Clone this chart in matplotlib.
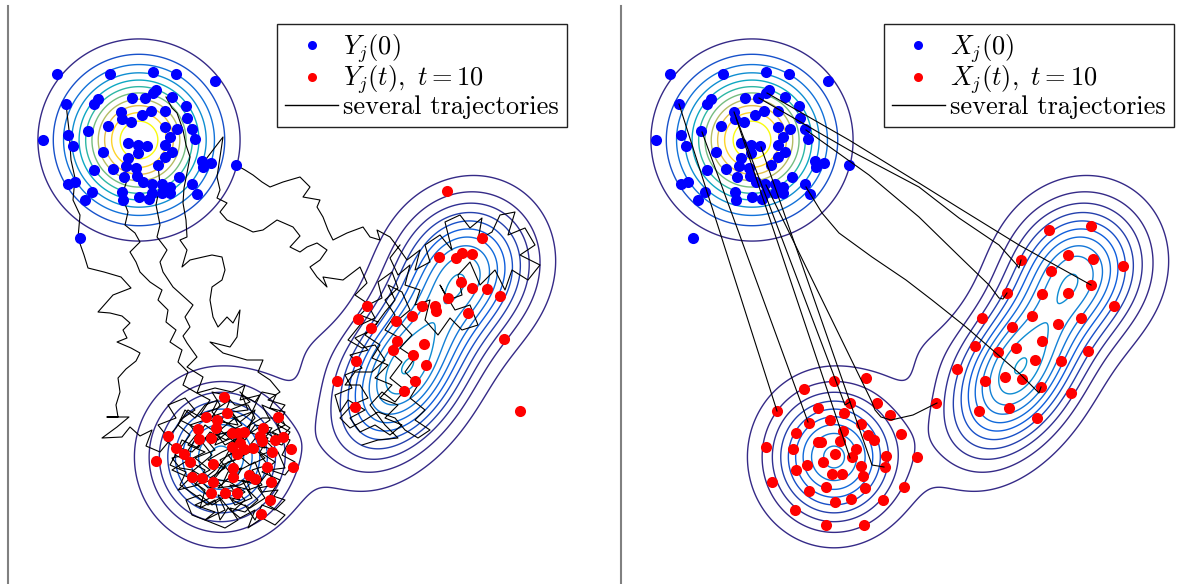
import matplotlib
matplotlib.use("Agg")
import matplotlib.pyplot as plt
from matplotlib.colors import LinearSegmentedColormap, Normalize
from matplotlib.lines import Line2D
import numpy as np

plt.rcParams["mathtext.fontset"] = "cm"
plt.rcParams["font.family"] = "cmr10"
plt.rcParams["axes.unicode_minus"] = False

# ---------------------------------------------------------------------------
# densities (panel coordinates, y grows downwards)
# ---------------------------------------------------------------------------
INIT_CX, INIT_CY, INIT_SIGMA = 139, 140, 45.3
INIT_LEVELS = [0.083, 0.167, 0.25, 0.333, 0.417, 0.5, 0.583, 0.667, 0.75, 0.833, 0.917]

# target = mixture (bottom blob, right blob lower part, right blob upper part, neck)
TARGET_CX = [221, 404, 466, 300]
TARGET_CY = [457, 372, 268, 345]
TARGET_SMAJ = [43, 60, 46, 30]
TARGET_SMIN = [41, 37, 42, 30]
TARGET_ANGLE = [90, -58, -56, 0]
TARGET_PEAK = [0.302, 0.35, 0.27, 0.0195]
TARGET_LEVELS = [0.0325, 0.065, 0.0975, 0.13, 0.1625, 0.195, 0.2275, 0.26,
                 0.2925, 0.325, 0.3575, 0.39]

PARULA = ["#352a87", "#0f5cdd", "#1481d6", "#06a4ca", "#2eb7a4",
          "#87bf77", "#d1bb59", "#fec832", "#f9fb0e"]

# ---------------------------------------------------------------------------
# particles
# ---------------------------------------------------------------------------
BLUE_X = [57, 110, 153, 176, 215, 66, 94, 98, 132, 145, 153, 156, 172, 186, 121, 122,
          131, 142, 151, 165, 187, 192, 195, 108, 88, 68, 43, 73, 103, 128, 138, 147,
          138, 165, 177, 170, 165, 172, 165, 158, 128, 126, 113, 94, 136, 137, 124, 143,
          152, 162, 170, 179, 202, 211, 203, 236, 192, 197, 68, 75, 92, 85, 122, 123,
          139, 149, 152, 162, 170, 80]
BLUE_Y = [74, 74, 72, 74, 81, 104, 104, 99, 98, 98, 93, 90, 97, 106, 112, 119,
          122, 115, 111, 111, 118, 129, 139, 126, 131, 135, 140, 146, 152, 143, 145, 146,
          153, 127, 129, 137, 145, 152, 157, 165, 158, 166, 169, 170, 168, 176, 177, 182,
          184, 184, 187, 177, 161, 163, 167, 165, 184, 194, 184, 182, 192, 200, 192, 200,
          197, 199, 193, 193, 193, 238]

# left panel, stochastic dynamics Y_j(10)
RED_Y_X = [224, 206, 227, 217, 216, 198, 199, 211, 168, 176, 184, 190, 156, 232, 238,
           244, 240, 232, 244, 253, 237, 263, 260, 262, 278, 275, 283, 291, 272, 293,
           267, 213, 233, 233, 249, 255, 271, 192, 202, 213, 211, 225, 237, 270, 261,
           447, 482, 439, 456, 462, 472, 461, 472, 487, 500, 448, 435, 436, 422, 468,
           367, 358, 371, 396, 412, 397, 393, 424, 413, 426, 356, 337, 415, 404, 355,
           504, 520]
RED_Y_Y = [397, 417, 413, 420, 428, 429, 439, 438, 436, 448, 454, 462, 461, 433, 433,
           432, 443, 447, 449, 448, 454, 428, 436, 441, 417, 440, 437, 449, 452, 467,
           467, 464, 468, 477, 475, 479, 482, 477, 478, 482, 493, 493, 493, 500, 514,
           191, 238, 257, 258, 253, 254, 282, 288, 289, 296, 298, 306, 311, 306, 313,
           306, 319, 328, 321, 316, 341, 350, 344, 355, 365, 361, 381, 381, 391, 407,
           339, 411]

# right panel, deterministic dynamics X_j(10)
RED_X_X = [221, 253, 191, 164, 205, 237, 264, 277, 231, 217, 196, 248, 183, 230, 255,
           261, 288, 205, 208, 227, 153, 180, 243, 222, 239, 273, 304, 210, 194, 248,
           272, 183, 219, 229, 250, 159, 213, 252, 291, 196, 222, 238, 270, 182, 213,
           251, 323,
           436, 478, 455, 480, 510, 408, 438, 478, 394, 429, 455, 501, 369, 419, 468,
           445, 399, 429, 362, 403, 385, 475, 422, 448, 344, 372, 392, 409, 428, 458,
           366, 396, 424]
RED_X_Y = [381, 378, 389, 411, 408, 403, 403, 415, 413, 420, 423, 424, 433, 431, 435,
           440, 434, 442, 442, 441, 447, 449, 449, 454, 457, 456, 457, 462, 465, 466,
           467, 470, 474, 474, 476, 482, 487, 488, 487, 491, 502, 499, 500, 510, 525,
           525, 403,
           230, 226, 255, 259, 266, 260, 271, 285, 293, 294, 293, 306, 318, 316, 318,
           324, 327, 341, 346, 348, 352, 351, 360, 361, 369, 381, 377, 379, 387, 393,
           411, 408, 418]

# ---------------------------------------------------------------------------
# trajectories, left panel (noisy)
# ---------------------------------------------------------------------------
WALK_1 = [(66, 104), (69, 130), (71, 160), (75, 178), (73, 200), (80, 215), (78, 238),
          (84, 255), (88, 268), (104, 272), (121, 277), (131, 288), (113, 295), (98, 312),
          (110, 313), (122, 316), (130, 323), (123, 330), (127, 338), (117, 342), (131, 348),
          (140, 353), (136, 361), (126, 369), (118, 378), (120, 392), (116, 405), (118, 417),
          (107, 417), (129, 417), (117, 427), (102, 438), (122, 437), (130, 427), (140, 436),
          (152, 430), (146, 446), (160, 452), (170, 440), (158, 425), (176, 418), (168, 405),
          (185, 398), (195, 410), (180, 420), (200, 430), (188, 445), (205, 452), (185, 462),
          (172, 470), (190, 478), (178, 490), (198, 485), (210, 498), (195, 505), (215, 512),
          (205, 520), (225, 510), (218, 495), (240, 500), (230, 485), (250, 490), (245, 475),
          (262, 480), (255, 462), (240, 470), (228, 455), (245, 448), (232, 438), (215, 445),
          (222, 428), (208, 418), (225, 412), (240, 422), (255, 410), (248, 432), (268, 438),
          (260, 452), (275, 462), (262, 472), (280, 480), (270, 495), (285, 500), (275, 510),
          (262, 505), (255, 520), (245, 505)]
WALK_2 = [(125, 166), (127, 180), (122, 196), (128, 212), (125, 225), (135, 233), (140, 242),
          (130, 252), (136, 262), (140, 272), (150, 282), (162, 290), (158, 300), (168, 310),
          (166, 322), (176, 330), (170, 342), (182, 350), (178, 362), (188, 372), (183, 385),
          (195, 392), (210, 400), (200, 415), (218, 408), (230, 400), (222, 420), (238, 430),
          (226, 440), (210, 432), (198, 448), (182, 440), (175, 455), (190, 462), (205, 470),
          (195, 485), (212, 480), (222, 465), (235, 460), (250, 452), (240, 440), (258, 428),
          (270, 420), (262, 405), (278, 412), (285, 425), (272, 432), (290, 440), (282, 455),
          (295, 462), (285, 475), (270, 470), (258, 485), (242, 480), (252, 498), (235, 505),
          (228, 495), (212, 505), (200, 495), (186, 500), (192, 515), (210, 522), (225, 528),
          (238, 520), (230, 508), (245, 512), (258, 500), (248, 490), (262, 485), (252, 470),
          (268, 465), (260, 455), (275, 450), (265, 440), (282, 445), (290, 432), (278, 425),
          (285, 412), (270, 408), (276, 395), (262, 392), (255, 402), (242, 395), (248, 410),
          (232, 412), (238, 425), (222, 422), (212, 412), (218, 400), (205, 405), (195, 418),
          (185, 410), (178, 425), (190, 435), (180, 448), (192, 452), (202, 442), (212, 455),
          (200, 465), (188, 475), (198, 478), (208, 488), (222, 485), (228, 472), (242, 468),
          (235, 480), (248, 482), (258, 475)]
WALK_3 = [(158, 165), (160, 185), (156, 205), (160, 225), (157, 237), (167, 250), (160, 262),
          (163, 272), (173, 287), (183, 296), (193, 305), (185, 317), (190, 327), (183, 336),
          (187, 343), (197, 357), (187, 367), (203, 377), (197, 393), (215, 388), (232, 392),
          (245, 385), (240, 400), (260, 395), (252, 412), (235, 418), (220, 430), (238, 445),
          (222, 452), (208, 460), (225, 468), (210, 478), (230, 482), (245, 492), (232, 500),
          (250, 508), (265, 498), (258, 488), (275, 485), (268, 470), (285, 468), (278, 452),
          (260, 445), (272, 428), (255, 425), (245, 440), (232, 428), (218, 440), (200, 438),
          (190, 425), (205, 420), (188, 410), (176, 428), (165, 440), (178, 450), (170, 465),
          (186, 472), (180, 485), (195, 495), (208, 505), (220, 498), (232, 512), (245, 500),
          (238, 492), (225, 490), (215, 478), (228, 462), (240, 458), (252, 445), (265, 448),
          (258, 435), (270, 432), (282, 438), (275, 418), (262, 418), (250, 425), (238, 438),
          (225, 445), (215, 432), (205, 425), (195, 440), (185, 455), (172, 458), (180, 468),
          (192, 470), (205, 478), (215, 470), (225, 458), (232, 445), (245, 430), (255, 418),
          (248, 405), (235, 405), (225, 395), (212, 392), (220, 405), (210, 420)]
WALK_4 = [(166, 97), (172, 108), (177, 113), (183, 130), (186, 145), (190, 157), (187, 173),
          (184, 188), (183, 203), (186, 220), (187, 237), (180, 240), (187, 250), (182, 267),
          (190, 260), (203, 257), (212, 255), (222, 257), (225, 270), (222, 280), (212, 287),
          (210, 300), (213, 317), (218, 327), (227, 317), (233, 323), (240, 310), (237, 337),
          (230, 347), (210, 342), (223, 353), (247, 360), (263, 360), (258, 372), (270, 380),
          (280, 392), (268, 400), (285, 405), (275, 418), (290, 428), (278, 440), (262, 430),
          (250, 445), (265, 458), (250, 465), (235, 452), (220, 460), (232, 475), (218, 488),
          (240, 485), (255, 478), (262, 492), (278, 490), (268, 505), (285, 515), (275, 525),
          (262, 518), (248, 528), (255, 510), (240, 518), (228, 508), (220, 520), (215, 500),
          (200, 508), (205, 490), (190, 480), (210, 470), (195, 458), (215, 450), (205, 438),
          (228, 432), (242, 425), (230, 410), (250, 402), (240, 392)]
WALK_5 = [(236, 165), (245, 170), (253, 175), (262, 182), (270, 187), (283, 182), (300, 177),
          (310, 187), (303, 197), (320, 200), (317, 207), (323, 217), (328, 230), (333, 240),
          (347, 233), (363, 227), (370, 237), (380, 240), (377, 230), (390, 237), (400, 250),
          (407, 260), (420, 250), (415, 270), (430, 262), (425, 245), (440, 235), (452, 250),
          (445, 222), (460, 215), (470, 228), (482, 218), (478, 240), (492, 232), (500, 215),
          (515, 212), (508, 235), (525, 228), (535, 245), (520, 255), (540, 265), (528, 280),
          (512, 270), (505, 290), (495, 270), (480, 285), (470, 262), (458, 275), (462, 295),
          (448, 300), (440, 285), (455, 310), (470, 305), (478, 325), (462, 330), (450, 318),
          (438, 335), (425, 320), (430, 300), (415, 305), (420, 290), (405, 285), (410, 265),
          (398, 275), (390, 258), (400, 245)]
WALK_6 = [(203, 163), (213, 150), (223, 137), (220, 157), (217, 177), (220, 190), (217, 198),
          (227, 203), (220, 212), (227, 220), (243, 227), (253, 232), (263, 230), (277, 220),
          (293, 227), (300, 236), (290, 247), (300, 252), (307, 247), (317, 243), (327, 250),
          (320, 260), (310, 267), (317, 277), (327, 287), (323, 277), (343, 280), (360, 267),
          (367, 283), (355, 295), (370, 305), (360, 315), (378, 322), (365, 335), (380, 345),
          (372, 358), (388, 365), (375, 378), (392, 385), (380, 398), (398, 405), (385, 418),
          (402, 425), (390, 435), (375, 425), (360, 432), (350, 418), (365, 410), (348, 400),
          (340, 412), (335, 395), (352, 388), (345, 375), (362, 368), (350, 355), (368, 350),
          (355, 338), (372, 330), (385, 312), (395, 300), (388, 285), (402, 292), (410, 310),
          (398, 320), (412, 335), (400, 348), (415, 358), (405, 372), (418, 385), (410, 398),
          (425, 410), (415, 420), (430, 430), (418, 438), (405, 430), (395, 418), (378, 412),
          (365, 420), (350, 428), (340, 418), (352, 405), (368, 398), (360, 385), (345, 385),
          (355, 372), (372, 372), (385, 360), (375, 345), (362, 348), (348, 340), (360, 325),
          (375, 318), (368, 305), (382, 298), (378, 282), (392, 272), (398, 288), (385, 300),
          (395, 315), (385, 330), (400, 338), (390, 352), (402, 362), (390, 378), (405, 390),
          (395, 402), (382, 392), (370, 405), (385, 425), (398, 438), (378, 440), (362, 445)]
WALKS = [WALK_1, WALK_2, WALK_3, WALK_4, WALK_5, WALK_6]

# trajectories, right panel (smooth)
FLOW_1 = [(66, 104), (164, 411)]
FLOW_2 = [(89, 132), (195, 422)]
FLOW_3 = [(121, 112), (232, 405), (237, 402)]
FLOW_4 = [(123, 118), (237, 458)]
FLOW_5 = [(148, 147), (259, 465), (271, 467)]
FLOW_6 = [(153, 185), (258, 400), (262, 410), (268, 417), (278, 420), (300, 415), (324, 403)]
FLOW_7 = [(154, 93), (236, 140), (306, 183), (346, 208), (406, 245), (478, 285)]
FLOW_8 = [(146, 98), (236, 150), (306, 187), (346, 218), (386, 245), (403, 264), (406, 268),
          (408, 260)]
FLOW_9 = [(193, 130), (256, 175), (306, 217), (346, 256), (376, 285), (386, 298), (390, 299),
          (394, 293)]
FLOW_10 = [(193, 187), (209, 213), (226, 233), (259, 257), (293, 280), (319, 300), (353, 327),
           (406, 373), (423, 390), (426, 393), (428, 387)]
FLOWS = [FLOW_1, FLOW_2, FLOW_3, FLOW_4, FLOW_5, FLOW_6, FLOW_7, FLOW_8, FLOW_9, FLOW_10]

# ---------------------------------------------------------------------------
parula = LinearSegmentedColormap.from_list("parula", PARULA)
norm = Normalize(vmin=INIT_LEVELS[0], vmax=INIT_LEVELS[-1], clip=True)

xs = np.arange(8, 586, 1.0)
ys = np.arange(6, 585, 1.0)
X, Y = np.meshgrid(xs, ys)
rho0 = np.exp(-((X - INIT_CX) ** 2 + (Y - INIT_CY) ** 2) / (2 * INIT_SIGMA ** 2))
rho1 = np.zeros_like(X)
for cx, cy, sa, sb, ang, pk in zip(TARGET_CX, TARGET_CY, TARGET_SMAJ, TARGET_SMIN,
                                   TARGET_ANGLE, TARGET_PEAK):
    a = np.deg2rad(ang)
    u = (X - cx) * np.cos(a) + (Y - cy) * np.sin(a)
    v = -(X - cx) * np.sin(a) + (Y - cy) * np.cos(a)
    rho1 += pk * np.exp(-u ** 2 / (2 * sa ** 2) - v ** 2 / (2 * sb ** 2))

fig = plt.figure(figsize=(11.98, 5.84), dpi=100)
ax_l = fig.add_axes([8 / 1198, 0, 577 / 1198, 578 / 584])
ax_r = fig.add_axes([621 / 1198, 0, 577 / 1198, 578 / 584])

panels = [
    (ax_l, WALKS, RED_Y_X, RED_Y_Y, "Y", 2, 4),
    (ax_r, FLOWS, RED_X_X, RED_X_Y, "X", 4, 2),
]
for ax, paths, rx, ry, name, z_paths, z_dots in panels:
    ax.contour(X, Y, rho0, levels=INIT_LEVELS,
               colors=[parula(norm(v)) for v in INIT_LEVELS], linewidths=1.0, zorder=1)
    ax.contour(X, Y, rho1, levels=TARGET_LEVELS,
               colors=[parula(norm(v)) for v in TARGET_LEVELS], linewidths=1.0, zorder=1)
    for p in paths:
        px, py = zip(*p)
        ax.plot(px, py, color="black", lw=0.8, zorder=z_paths)
    ax.plot(BLUE_X, BLUE_Y, "o", color="#0000ff", ms=8, mec="none", zorder=z_dots)
    ax.plot(rx, ry, "o", color="#ff0000", ms=8, mec="none", zorder=z_dots)

    ax.set_xlim(8, 585)
    ax.set_ylim(584, 6)
    ax.set_xticks([])
    ax.set_yticks([])
    for side in ["top", "right", "bottom"]:
        ax.spines[side].set_visible(False)
    ax.spines["left"].set_color("#808080")
    ax.spines["left"].set_linewidth(1.5)

    handles = [
        Line2D([], [], marker="o", ls="none", color="#0000ff", ms=6.5, mec="none"),
        Line2D([], [], marker="o", ls="none", color="#ff0000", ms=6.5, mec="none"),
        Line2D([], [], color="black", lw=1.0),
    ]
    labels = [rf"${name}_j(0)$", rf"${name}_j(t),\ t=10$", "several trajectories"]
    leg = ax.legend(handles, labels, loc="upper right",
                    bbox_to_anchor=(0.969 if name == "Y" else 0.958, 0.969),
                    borderaxespad=0, fancybox=False, framealpha=1, edgecolor="#222222",
                    fontsize=19, labelspacing=-0.05, handlelength=2.0, handletextpad=0.2,
                    borderpad=0.3)
    leg.get_frame().set_linewidth(1.0)
    leg.set_zorder(10)

fig.savefig("out.png", dpi=100)
